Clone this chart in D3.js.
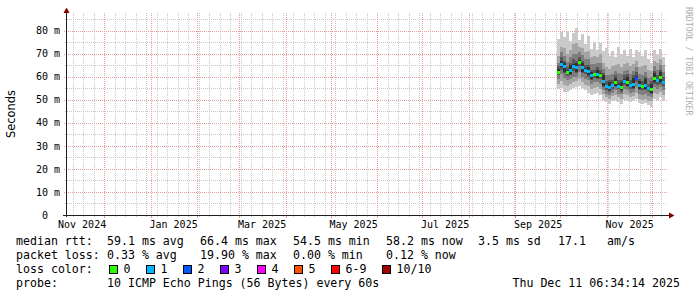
<!DOCTYPE html>
<html lang="en">
<head>
<meta charset="UTF-8">
<title>smokeping</title>
<script src="https://cdnjs.cloudflare.com/ajax/libs/d3/7.8.5/d3.min.js"></script>
<style>
  body { margin: 0; background: #fff; }
  svg { display: block; }
  text { font-family: "DejaVu Sans Mono", monospace; fill: #000; }
</style>
</head>
<body>
<script>
// y axis
var yTicks = [0, 10, 20, 30, 40, 50, 60, 70, 80];
var yTickLabels = ["0  ", "10 m", "20 m", "30 m", "40 m", "50 m", "60 m", "70 m", "80 m"];
var yMinor = [5, 15, 25, 35, 45, 55, 65, 75, 85];
// x axis labels (drawn mid-month like rrdtool)
var monthLabels = ["Nov 2024", "Jan 2025", "Mar 2025", "May 2025", "Jul 2025", "Sep 2025", "Nov 2025"];

var endTime = new Date(Date.UTC(2025, 11, 11, 6, 34, 14));
var spanDays = 400;
var firstBucket = new Date(Date.UTC(2025, 8, 28, 20, 0, 0));
var bucketHours = 48;

// median rtt per bucket (ms)
var median = [62.2, 65.5, 64.4, 62.0, 63.0, 64.8, 64.0, 66.5, 64.0, 63.0, 62.3, 60.5,
              61.0, 61.2, 60.8, 58.0, 55.8, 55.5, 56.3, 57.6, 56.0, 55.7, 58.2, 57.5,
              56.2, 57.0, 59.5, 56.2, 55.8, 56.5, 55.0, 54.8, 59.5, 58.4, 59.8, 57.5];
// lost pings per bucket (index into loss colours)
var lossIdx = [0, 1, 1, 0, 1, 1, 1, 0, 1, 1, 1, 1,
               0, 1, 0, 1, 1, 1, 1, 0, 1, 0, 1, 0,
               1, 1, 2, 1, 0, 1, 1, 0, 0, 1, 0, 1];
// 10 sorted pings per bucket (ms)
var pings = [
  [54.5, 57.0, 59.0, 60.5, 61.0, 63.5, 64.5, 66.0, 69.0, 76.5],
  [55.0, 58.0, 61.0, 63.0, 64.0, 67.0, 68.5, 70.5, 73.0, 79.5],
  [53.5, 56.5, 59.5, 61.5, 62.0, 66.0, 67.0, 69.0, 72.5, 77.0],
  [53.5, 56.0, 58.5, 60.2, 61.3, 62.7, 64.0, 66.5, 70.0, 80.0],
  [54.0, 57.0, 59.0, 60.5, 61.0, 65.0, 66.0, 68.5, 71.5, 75.5],
  [55.0, 57.5, 60.0, 62.5, 64.0, 65.6, 67.5, 70.0, 74.0, 79.0],
  [55.5, 58.0, 60.0, 61.5, 62.0, 66.0, 67.0, 70.0, 74.5, 81.0],
  [56.0, 59.0, 62.0, 64.5, 65.8, 67.2, 68.5, 70.5, 73.0, 76.0],
  [55.0, 57.5, 60.0, 61.5, 62.0, 66.0, 67.0, 69.5, 72.5, 78.5],
  [54.0, 56.5, 59.0, 61.3, 62.3, 63.7, 65.0, 67.5, 70.5, 74.0],
  [53.0, 56.0, 58.5, 60.0, 60.5, 64.0, 65.0, 67.5, 71.0, 77.5],
  [52.0, 54.5, 57.0, 58.5, 59.0, 62.0, 63.0, 65.5, 68.5, 72.0],
  [52.5, 55.0, 57.5, 59.5, 60.3, 61.7, 63.0, 65.5, 69.0, 75.0],
  [53.0, 55.5, 57.5, 59.0, 59.5, 63.0, 64.0, 66.0, 68.5, 71.5],
  [52.0, 54.5, 57.0, 59.0, 60.1, 61.5, 63.0, 66.0, 70.0, 74.5],
  [50.0, 52.5, 54.0, 55.5, 56.0, 60.5, 61.5, 63.5, 66.0, 71.0],
  [49.0, 51.0, 52.5, 54.3, 55.1, 56.5, 58.0, 60.5, 64.0, 72.5],
  [48.0, 50.5, 52.0, 53.5, 54.0, 57.5, 58.5, 60.5, 63.5, 69.0],
  [49.5, 51.5, 53.0, 54.8, 55.6, 57.0, 58.5, 61.0, 64.5, 71.0],
  [50.0, 52.0, 54.0, 55.5, 56.0, 59.5, 60.5, 62.5, 65.0, 68.5],
  [49.0, 51.0, 52.5, 54.5, 55.3, 56.7, 58.5, 61.5, 65.5, 73.0],
  [48.0, 50.5, 52.5, 53.5, 54.0, 57.5, 58.5, 61.0, 64.0, 70.0],
  [50.0, 52.5, 54.5, 56.5, 57.5, 58.9, 60.5, 62.5, 65.5, 71.5],
  [49.5, 52.0, 54.0, 55.5, 56.0, 60.0, 61.0, 63.0, 66.0, 69.0],
  [49.0, 51.0, 53.0, 54.8, 55.5, 56.9, 58.5, 61.0, 64.5, 72.0],
  [49.5, 51.5, 53.5, 54.5, 55.0, 59.5, 60.5, 62.5, 65.5, 68.5],
  [50.5, 53.0, 55.5, 57.5, 58.8, 60.2, 62.0, 64.0, 67.0, 71.5],
  [48.5, 50.5, 52.5, 54.0, 54.5, 58.0, 59.0, 61.0, 64.0, 70.5],
  [48.0, 50.0, 52.0, 54.0, 55.1, 56.5, 58.0, 60.5, 64.5, 69.0],
  [48.5, 50.5, 52.5, 54.0, 54.5, 59.0, 60.0, 62.0, 65.0, 71.5],
  [47.5, 49.5, 51.5, 53.5, 54.3, 55.7, 57.0, 59.5, 63.0, 67.5],
  [47.0, 49.5, 51.0, 52.5, 53.0, 57.0, 58.0, 60.0, 62.5, 66.0],
  [50.5, 53.0, 55.5, 57.0, 57.5, 61.5, 62.5, 64.5, 67.0, 71.5],
  [50.0, 52.5, 54.5, 56.5, 57.7, 59.1, 60.5, 63.0, 66.0, 69.5],
  [51.0, 53.5, 55.5, 57.0, 57.5, 62.0, 63.0, 65.0, 67.5, 72.0],
  [49.5, 52.0, 54.0, 55.8, 56.8, 58.2, 60.0, 62.0, 65.0, 68.5]
];

var lossLabels = ["0", "1", "2", "3", "4", "5", "6-9", "10/10"];
var lossColors = ["#26ff00", "#00b8ff", "#0059ff", "#7e00ff", "#ff00ff", "#ff5500", "#ff0000", "#a10000"];
var smokeShades = ["#cacaca", "#a4a4a4", "#7e7e7e", "#585858", "#323232"];

var rttStats = ["59.1 ms avg", "66.4 ms max", "54.5 ms min", "58.2 ms now", "3.5 ms sd"];
var lossStats = ["0.33 % avg", "19.90 % max", "0.00 % min", "0.12 % now"];

var width = 697, height = 297;
var plot = { left: 67, right: 667, top: 13, bottom: 215 };

var svg = d3.select("body").append("svg").attr("width", width).attr("height", height);

var startTime = d3.utcDay.offset(endTime, -spanDays);
var x = d3.scaleUtc().domain([startTime, endTime]).range([plot.left, plot.right]);
var y = d3.scaleLinear().domain([0, 87.6]).range([plot.bottom, plot.top]);

// grid
var grid = svg.append("g").attr("shape-rendering", "crispEdges");
d3.utcSunday.range(startTime, endTime).forEach(function (d) {
  var px = Math.round(x(d)) + 0.5;
  grid.append("line").attr("x1", px).attr("x2", px).attr("y1", plot.top).attr("y2", plot.bottom)
    .attr("stroke", "#c8c8c8").attr("stroke-dasharray", "1,1");
  grid.append("line").attr("x1", px).attr("x2", px).attr("y1", plot.bottom).attr("y2", plot.bottom + 2)
    .attr("stroke", "#c8c8c8");
});
yMinor.forEach(function (v) {
  var py = Math.round(y(v)) + 0.5;
  grid.append("line").attr("x1", plot.left - 2).attr("x2", plot.right).attr("y1", py).attr("y2", py)
    .attr("stroke", "#c8c8c8").attr("stroke-dasharray", "1,1");
});
d3.utcMonth.range(startTime, endTime).forEach(function (d) {
  var px = Math.round(x(d)) + 0.5;
  grid.append("line").attr("x1", px).attr("x2", px).attr("y1", plot.top).attr("y2", plot.bottom)
    .attr("stroke", "#eb9c9c").attr("stroke-dasharray", "1,1");
  grid.append("line").attr("x1", px).attr("x2", px).attr("y1", plot.bottom).attr("y2", plot.bottom + 3)
    .attr("stroke", "#eb9c9c");
});
yTicks.slice(1).forEach(function (v) {
  var py = Math.round(y(v)) + 0.5;
  grid.append("line").attr("x1", plot.left - 3).attr("x2", plot.right).attr("y1", py).attr("y2", py)
    .attr("stroke", "#eb9c9c").attr("stroke-dasharray", "1,1");
});

// smoke
var buckets = pings.map(function (p, i) {
  var t0 = d3.utcHour.offset(firstBucket, i * bucketHours);
  var t1 = d3.utcHour.offset(firstBucket, (i + 1) * bucketHours);
  return { t0: t0, t1: t1, p: p, med: median[i], loss: lossIdx[i] };
});
var smoke = svg.append("g").attr("shape-rendering", "crispEdges");
smokeShades.forEach(function (col, k) {
  smoke.selectAll(null).data(buckets).enter().append("rect")
    .attr("x", function (d) { return Math.round(x(d.t0)); })
    .attr("width", function (d) { return Math.round(x(d.t1)) - Math.round(x(d.t0)); })
    .attr("y", function (d) { return Math.round(y(d.p[9 - k])); })
    .attr("height", function (d) { return Math.max(1, Math.round(y(d.p[k])) - Math.round(y(d.p[9 - k]))); })
    .attr("fill", col);
});
// median marks coloured by loss
smoke.selectAll(null).data(buckets).enter().append("rect")
  .attr("x", function (d) { return Math.round(x(d.t0)); })
  .attr("width", function (d) { return Math.round(x(d.t1)) - Math.round(x(d.t0)); })
  .attr("y", function (d) { return Math.round(y(d.med)) - 1; })
  .attr("height", 3)
  .attr("fill", function (d) { return lossColors[d.loss]; });

// axes lines and arrows
var axisCol = "#1f1f1f", arrowCol = "#800000";
svg.append("line").attr("x1", 66.5).attr("x2", 66.5).attr("y1", plot.bottom + 2).attr("y2", 11)
  .attr("stroke", axisCol);
svg.append("line").attr("x1", 63).attr("x2", 670).attr("y1", plot.bottom + 0.5).attr("y2", plot.bottom + 0.5)
  .attr("stroke", axisCol);
svg.append("path").attr("d", "M63.5,13 L66.5,7.5 L69.5,13 Z").attr("fill", arrowCol);
svg.append("path").attr("d", "M669,212.5 L674.5,215.5 L669,218.5 Z").attr("fill", arrowCol);

// axis labels
var labelDates = monthLabels.map(function (s) { return d3.utcDay.offset(d3.utcParse("%b %Y")(s), 15); });
var xAxis = d3.axisBottom(x).tickValues(labelDates)
  .tickFormat(function (d, i) { return monthLabels[i]; }).tickSize(0).tickPadding(6);
svg.append("g").attr("transform", "translate(0," + plot.bottom + ")").call(xAxis)
  .call(function (g) { g.select(".domain").remove(); })
  .selectAll("text").attr("font-size", 10).attr("fill", "#000");

var yAxis = d3.axisLeft(y).tickValues(yTicks)
  .tickFormat(function (d, i) { return yTickLabels[i]; }).tickSize(0).tickPadding(6);
svg.append("g").attr("transform", "translate(66,0)").call(yAxis)
  .call(function (g) { g.select(".domain").remove(); })
  .selectAll("text").attr("font-size", 10).attr("fill", "#000")
  .style("white-space", "pre");
svg.selectAll("g").attr("font-family", null);

svg.append("text").attr("transform", "translate(14.5,114) rotate(-90)")
  .attr("text-anchor", "middle").style("font-family", "'DejaVu Sans'").attr("font-size", 11.4)
  .text("Seconds");

svg.append("text").attr("transform", "translate(686,7) rotate(90)")
  .attr("font-size", 8.2).style("fill", "#b0b0b0")
  .text("RRDTOOL / TOBI OETIKER");

// legend
var fs = 11.6;
var lineY = [245, 259, 273, 287];
var colX = [107, 200, 293, 386, 478];
function txt(s, px, py, anchor) {
  svg.append("text").attr("x", px).attr("y", py).attr("font-size", fs)
    .attr("text-anchor", anchor || "start").style("white-space", "pre").text(s);
}
txt("median rtt:", 16, lineY[0]);
rttStats.forEach(function (s, i) { txt(s, colX[i], lineY[0]); });
txt("17.1", 558, lineY[0]);
txt("am/s", 607, lineY[0]);
txt("packet loss:", 16, lineY[1]);
lossStats.forEach(function (s, i) { txt(s, colX[i], lineY[1]); });
txt("loss color:", 16, lineY[2]);
var lx = 109;
lossLabels.forEach(function (s, i) {
  svg.append("rect").attr("x", lx + 0.5).attr("y", 265.5).attr("width", 8).attr("height", 8)
    .attr("fill", lossColors[i]).attr("stroke", "#000").attr("shape-rendering", "crispEdges");
  txt(s, lx + 14.5, lineY[2]);
  lx = lx + 14.5 + s.length * 7 + 15.5;
});
txt("probe:", 16, lineY[3]);
txt("10 ICMP Echo Pings (56 Bytes) every 60s", 107, lineY[3]);
txt("Thu Dec 11 06:34:14 2025", 680, lineY[3], "end");
</script>
</body>
</html>
